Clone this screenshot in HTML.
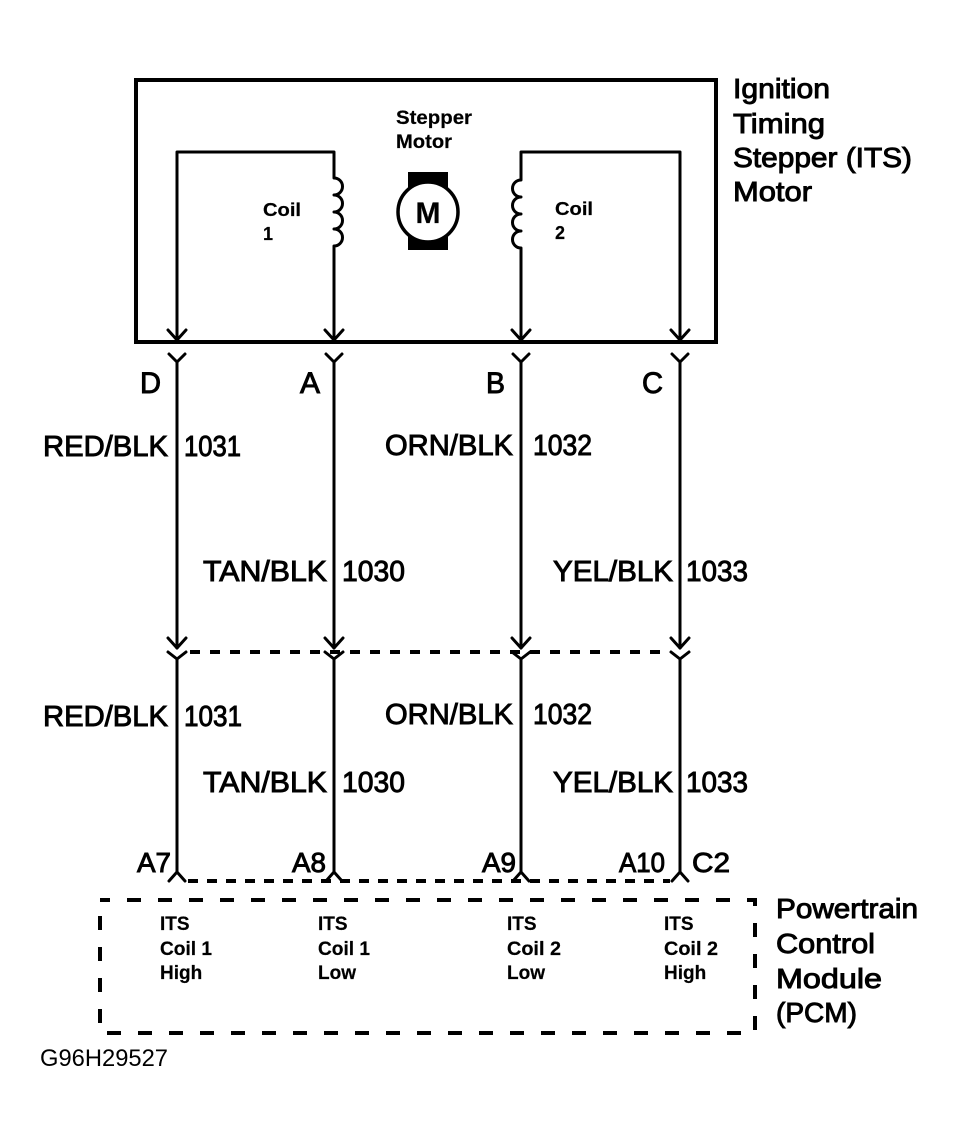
<!DOCTYPE html>
<html>
<head>
<meta charset="utf-8">
<style>
  html, body { margin:0; padding:0; background:#fff; }
  svg { display:block; }
  text { font-family: "Liberation Sans", "DejaVu Sans", sans-serif; fill:#000; }
  .b { stroke:#000; stroke-width:0.95; }
  .s { font-weight:bold; stroke:#000; stroke-width:0.2; }
</style>
</head>
<body>
<svg width="955" height="1141" viewBox="0 0 955 1141" xmlns="http://www.w3.org/2000/svg">
  <rect x="0" y="0" width="955" height="1141" fill="#fff"/>

  <!-- ITS Motor box -->
  <rect x="136" y="80" width="580" height="262" fill="none" stroke="#000" stroke-width="4"/>

  <g fill="none" stroke="#000" stroke-width="3" stroke-linejoin="round" stroke-linecap="round">
    <!-- Coil 1 loop -->
    <path d="M177,340 V152 H334 V178 a8.5,8.5 0 0 1 0,17 a8.5,8.5 0 0 1 0,17 a8.5,8.5 0 0 1 0,17 a8.5,8.5 0 0 1 0,17 V340"/>
    <!-- Coil 2 loop -->
    <path d="M680,340 V152 H521 V180 a8.5,8.5 0 0 0 0,17 a8.5,8.5 0 0 0 0,17 a8.5,8.5 0 0 0 0,17 a8.5,8.5 0 0 0 0,17 V340"/>
    <!-- arrows inside box -->
    <polyline points="168,330 177,340 186,330"/>
    <polyline points="325,330 334,340 343,330"/>
    <polyline points="512,330 521,340 530,330"/>
    <polyline points="671,330 680,340 689,330"/>
  </g>

  <!-- Motor symbol -->
  <rect x="408" y="172" width="40" height="78" fill="#000"/>
  <circle cx="428" cy="212" r="30" fill="#fff" stroke="#000" stroke-width="3.5"/>
  <text x="428" y="223" font-size="30" text-anchor="middle" class="s">M</text>

  <text x="396" y="124" font-size="19" textLength="76" lengthAdjust="spacingAndGlyphs" class="s">Stepper</text>
  <text x="396" y="148" font-size="19" textLength="56" lengthAdjust="spacingAndGlyphs" class="s">Motor</text>
  <text x="263" y="216" font-size="18" textLength="38" lengthAdjust="spacingAndGlyphs" class="s">Coil</text>
  <text x="263" y="240" font-size="18" class="s">1</text>
  <text x="555" y="215" font-size="18" textLength="38" lengthAdjust="spacingAndGlyphs" class="s">Coil</text>
  <text x="555" y="239" font-size="18" class="s">2</text>

  <!-- Ignition label -->
  <text x="733" y="98" font-size="28" textLength="97" lengthAdjust="spacingAndGlyphs" class="b">Ignition</text>
  <text x="733" y="133" font-size="28" textLength="92" lengthAdjust="spacingAndGlyphs" class="b">Timing</text>
  <text x="733" y="167" font-size="28" textLength="179" lengthAdjust="spacingAndGlyphs" class="b">Stepper (ITS)</text>
  <text x="733" y="201" font-size="28" textLength="79" lengthAdjust="spacingAndGlyphs" class="b">Motor</text>

  <!-- Wires -->
  <g fill="none" stroke="#000" stroke-width="3" stroke-linejoin="round" stroke-linecap="round">
    <!-- D -->
    <polyline points="169,354 177,362 185,354"/>
    <line x1="177" y1="362" x2="177" y2="648"/>
    <polyline points="168,638 177,648 186,638"/>
    <polyline points="168,652 177,659 186,652"/>
    <line x1="177" y1="659" x2="177" y2="872"/>
    <polyline points="169,881 177,872 185,881"/>
    <!-- A -->
    <polyline points="326,354 334,362 342,354"/>
    <line x1="334" y1="362" x2="334" y2="648"/>
    <polyline points="325,638 334,648 343,638"/>
    <polyline points="325,652 334,659 343,652"/>
    <line x1="334" y1="659" x2="334" y2="872"/>
    <polyline points="326,881 334,872 342,881"/>
    <!-- B -->
    <polyline points="513,354 521,362 529,354"/>
    <line x1="521" y1="362" x2="521" y2="648"/>
    <polyline points="512,638 521,648 530,638"/>
    <polyline points="512,652 521,659 530,652"/>
    <line x1="521" y1="659" x2="521" y2="872"/>
    <polyline points="513,881 521,872 529,881"/>
    <!-- C -->
    <polyline points="672,354 680,362 688,354"/>
    <line x1="680" y1="362" x2="680" y2="648"/>
    <polyline points="671,638 680,648 689,638"/>
    <polyline points="671,652 680,659 689,652"/>
    <line x1="680" y1="659" x2="680" y2="872"/>
    <polyline points="672,881 680,872 688,881"/>
  </g>

  <!-- dashed connector lines -->
  <line x1="190" y1="652" x2="668" y2="652" stroke="#000" stroke-width="4" stroke-dasharray="10 10"/>
  <line x1="188" y1="881" x2="670" y2="881" stroke="#000" stroke-width="4" stroke-dasharray="10 9"/>

  <!-- Pin letters -->
  <text x="140" y="393" font-size="30" textLength="21" lengthAdjust="spacingAndGlyphs" class="b">D</text>
  <text x="300" y="393" font-size="30" textLength="20" lengthAdjust="spacingAndGlyphs" class="b">A</text>
  <text x="486" y="393" font-size="30" textLength="19" lengthAdjust="spacingAndGlyphs" class="b">B</text>
  <text x="642" y="393" font-size="30" textLength="21" lengthAdjust="spacingAndGlyphs" class="b">C</text>

  <!-- Wire labels row 1 -->
  <text x="43" y="456" font-size="29" textLength="125" lengthAdjust="spacingAndGlyphs" class="b">RED/BLK</text>
  <text x="184" y="456" font-size="29" textLength="57" lengthAdjust="spacingAndGlyphs" class="b">1031</text>
  <text x="385" y="455" font-size="29" textLength="128" lengthAdjust="spacingAndGlyphs" class="b">ORN/BLK</text>
  <text x="533" y="455" font-size="29" textLength="59" lengthAdjust="spacingAndGlyphs" class="b">1032</text>
  <!-- row 2 -->
  <text x="203" y="581" font-size="29" textLength="124" lengthAdjust="spacingAndGlyphs" class="b">TAN/BLK</text>
  <text x="342" y="581" font-size="29" textLength="63" lengthAdjust="spacingAndGlyphs" class="b">1030</text>
  <text x="553" y="581" font-size="29" textLength="120" lengthAdjust="spacingAndGlyphs" class="b">YEL/BLK</text>
  <text x="686" y="581" font-size="29" textLength="62" lengthAdjust="spacingAndGlyphs" class="b">1033</text>
  <!-- row 3 -->
  <text x="43" y="726" font-size="29" textLength="125" lengthAdjust="spacingAndGlyphs" class="b">RED/BLK</text>
  <text x="184" y="726" font-size="29" textLength="58" lengthAdjust="spacingAndGlyphs" class="b">1031</text>
  <text x="385" y="724" font-size="29" textLength="128" lengthAdjust="spacingAndGlyphs" class="b">ORN/BLK</text>
  <text x="533" y="724" font-size="29" textLength="59" lengthAdjust="spacingAndGlyphs" class="b">1032</text>
  <!-- row 4 -->
  <text x="203" y="792" font-size="29" textLength="124" lengthAdjust="spacingAndGlyphs" class="b">TAN/BLK</text>
  <text x="342" y="792" font-size="29" textLength="63" lengthAdjust="spacingAndGlyphs" class="b">1030</text>
  <text x="553" y="792" font-size="29" textLength="120" lengthAdjust="spacingAndGlyphs" class="b">YEL/BLK</text>
  <text x="686" y="792" font-size="29" textLength="62" lengthAdjust="spacingAndGlyphs" class="b">1033</text>

  <!-- PCM pin labels -->
  <text x="137" y="872" font-size="28" textLength="34" lengthAdjust="spacingAndGlyphs" class="b">A7</text>
  <text x="292" y="872" font-size="28" textLength="34" lengthAdjust="spacingAndGlyphs" class="b">A8</text>
  <text x="482" y="872" font-size="28" textLength="34" lengthAdjust="spacingAndGlyphs" class="b">A9</text>
  <text x="619" y="872" font-size="28" textLength="46" lengthAdjust="spacingAndGlyphs" class="b">A10</text>
  <text x="692" y="872" font-size="28" textLength="38" lengthAdjust="spacingAndGlyphs" class="b">C2</text>

  <!-- PCM dashed box -->
  <rect x="100" y="900" width="655" height="133" fill="none" stroke="#000" stroke-width="4" stroke-dasharray="14 17" stroke-dashoffset="4"/>

  <!-- PCM inner labels -->
  <g font-size="19">
    <text x="160" y="930" class="s">ITS</text>
    <text x="160" y="955" class="s" textLength="52" lengthAdjust="spacingAndGlyphs">Coil 1</text>
    <text x="160" y="979" class="s">High</text>

    <text x="318" y="930" class="s">ITS</text>
    <text x="318" y="955" class="s" textLength="52" lengthAdjust="spacingAndGlyphs">Coil 1</text>
    <text x="318" y="979" class="s">Low</text>

    <text x="507" y="930" class="s">ITS</text>
    <text x="507" y="955" class="s" textLength="54" lengthAdjust="spacingAndGlyphs">Coil 2</text>
    <text x="507" y="979" class="s">Low</text>

    <text x="664" y="930" class="s">ITS</text>
    <text x="664" y="955" class="s" textLength="54" lengthAdjust="spacingAndGlyphs">Coil 2</text>
    <text x="664" y="979" class="s">High</text>
  </g>

  <!-- PCM label -->
  <text x="776" y="918" font-size="28" textLength="142" lengthAdjust="spacingAndGlyphs" class="b">Powertrain</text>
  <text x="776" y="953" font-size="28" textLength="99" lengthAdjust="spacingAndGlyphs" class="b">Control</text>
  <text x="776" y="988" font-size="28" textLength="106" lengthAdjust="spacingAndGlyphs" class="b">Module</text>
  <text x="776" y="1022" font-size="28" textLength="81" lengthAdjust="spacingAndGlyphs" class="b">(PCM)</text>

  <!-- Figure code -->
  <text x="40" y="1066" font-size="24" textLength="128" lengthAdjust="spacingAndGlyphs">G96H29527</text>
</svg>
</body>
</html>
